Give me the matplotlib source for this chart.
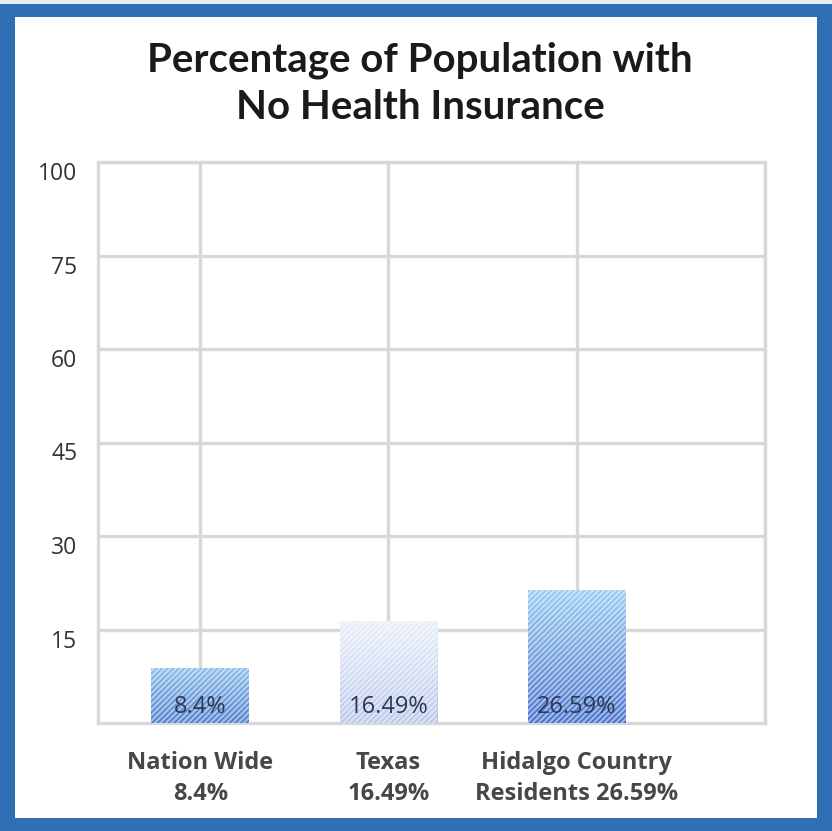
import numpy as np
import matplotlib

matplotlib.use("Agg")
import matplotlib.pyplot as plt
from matplotlib.colors import LinearSegmentedColormap
from matplotlib.patches import Rectangle

# data
categories = ["Nation Wide\n8.4%", "Texas\n16.49%", "Hidalgo Country\nResidents 26.59%"]
value_labels = ["8.4%", "16.49%", "26.59%"]
bar_heights = [8.9, 16.4, 21.4]  # drawn heights, in units of the lower axis steps
tick_values = [15, 30, 45, 60, 75, 90]
tick_labels = ["15", "30", "45", "60", "75", "100"]
bar_colors = [
    ("#86bbe8", "#4577cd"),
    ("#e9eff9", "#b6c4ea"),
    ("#93caf0", "#3c68cb"),
]

FRAME = "#2e6fb5"
GRID = "#d8d8d8"

plt.rcParams["hatch.linewidth"] = 1.7

fig = plt.figure(figsize=(8.32, 8.31), dpi=100)
fig.patch.set_facecolor(FRAME)

# white card inside the blue frame (pixel coords turned into figure fractions)
W, H = 832, 831
fig.patches.append(Rectangle((15 / W, 13 / H), (817 - 15) / W, (814 - 13) / H,
                             transform=fig.transFigure, facecolor="white",
                             edgecolor="none", zorder=-10))
fig.patches.append(Rectangle((0, 1 - 4 / H), 1, 4 / H, transform=fig.transFigure,
                             facecolor="#e6edf4", edgecolor="none", zorder=-10))

ax = fig.add_axes([98 / W, (831 - 723) / H, (765 - 98) / W, (723 - 162) / H])
ax.set_facecolor("white")

x = np.arange(len(categories))
bars = ax.bar(x, bar_heights, width=0.52, color="none", edgecolor="none", zorder=3)

# gradient fill clipped to each bar, then the white diagonal stripes
for patch, (top, bottom) in zip(bars, bar_colors):
    x0, y0 = patch.get_x(), patch.get_y()
    w, h = patch.get_width(), patch.get_height()
    cmap = LinearSegmentedColormap.from_list("g", [bottom, top])
    grad = np.linspace(0, 1, 256).reshape(-1, 1)
    im = ax.imshow(grad, cmap=cmap, origin="lower", aspect="auto",
                   extent=(x0, x0 + w, y0, y0 + h), zorder=3)
    im.set_clip_path(patch)
    ax.bar(x0 + w / 2, h, width=w, color="none", edgecolor=(1, 1, 1, 0.5),
           linewidth=0, hatch="//////", zorder=4)

for xi, lbl in zip(x, value_labels):
    ax.text(xi, 2.5, lbl, ha="center", va="center", fontsize=17,
            family="Open Sans", color="#2c3a52", zorder=5)

ax.set_xlim(-0.543, 3.0)
ax.set_ylim(0, 90)
ax.set_xticks([0, 1, 2, 3])
ax.set_xticklabels([])
ax.set_yticks(tick_values)
ax.set_yticklabels(tick_labels, family="Open Sans", fontsize=16.5, color="#333333")
for t in ax.get_yticklabels():
    t.set_verticalalignment("top")
ax.tick_params(length=0)
ax.tick_params(axis="y", pad=15)
ax.grid(True, color=GRID, linewidth=2.4, zorder=1)
ax.set_axisbelow(True)
for sp in ax.spines.values():
    sp.set_color(GRID)
    sp.set_linewidth(2.4)

for xi, cat in zip(x, categories):
    ax.text(xi, -0.05, cat, transform=ax.get_xaxis_transform(), ha="center",
            va="top", fontsize=17, family="Open Sans", fontweight="bold",
            color="#474747", linespacing=1.4)

fig.text(420 / W, 1 - 84 / H, "Percentage of Population with\nNo Health Insurance",
         ha="center", va="center", fontsize=29, family="Lato", fontweight="bold",
         color="#1a1a1a", linespacing=1.33)

fig.savefig("out.png", dpi=100)
